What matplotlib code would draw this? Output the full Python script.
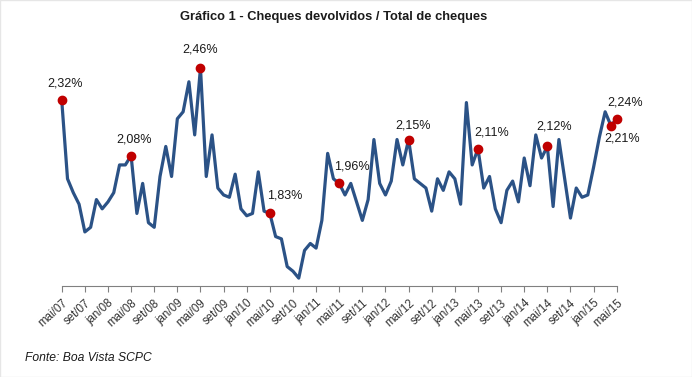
# -*- coding: utf-8 -*-
import matplotlib
matplotlib.use('Agg')
import matplotlib.pyplot as plt
import numpy as np

plt.rcParams['font.family'] = ['Liberation Sans', 'DejaVu Sans']

# cheques devolvidos / total de cheques (%), mensal mai/07 .. mai/15
valores = [2.32, 1.98, 1.92, 1.87, 1.75, 1.77, 1.89, 1.85, 1.88, 1.92,
           2.04, 2.04, 2.08, 1.83, 1.96, 1.79, 1.77, 1.99, 2.12, 1.99,
           2.24, 2.27, 2.40, 2.17, 2.46, 1.99, 2.17, 1.94, 1.91, 1.90,
           2.00, 1.85, 1.82, 1.83, 2.01, 1.84, 1.83, 1.73, 1.72, 1.60,
           1.58, 1.55, 1.67, 1.70, 1.68, 1.80, 2.09, 1.98, 1.96, 1.91,
           1.96, 1.88, 1.80, 1.89, 2.15, 1.96, 1.91, 1.97, 2.15, 2.04,
           2.15, 1.98, 1.96, 1.94, 1.84, 1.98, 1.93, 2.01, 1.98, 1.87,
           2.31, 2.04, 2.11, 1.94, 1.99, 1.85, 1.79, 1.93, 1.97, 1.88,
           2.07, 1.95, 2.17, 2.07, 2.12, 1.86, 2.15, 1.98, 1.81, 1.94,
           1.90, 1.91, 2.03, 2.16, 2.27, 2.21, 2.24]

rotulos = ['mai/07', 'set/07', 'jan/08', 'mai/08', 'set/08', 'jan/09',
           'mai/09', 'set/09', 'jan/10', 'mai/10', 'set/10', 'jan/11',
           'mai/11', 'set/11', 'jan/12', 'mai/12', 'set/12', 'jan/13',
           'mai/13', 'set/13', 'jan/14', 'mai/14', 'set/14', 'jan/15',
           'mai/15']

# pontos destacados: indice do mes, texto
destaques = [0, 12, 24, 36, 48, 60, 72, 84, 95, 96]
textos = ['2,32%', '2,08%', '2,46%', '1,83%', '1,96%', '2,15%', '2,11%',
          '2,12%', '2,21%', '2,24%']
offsets = [(3, 17), (3, 16), (0, 18), (15, 18), (13, 17), (4, 14),
           (14, 16), (7, 20), (11, -13), (8, 16)]

x = np.arange(len(valores))

fig = plt.figure(figsize=(6.92, 3.77), dpi=100)
ax = fig.add_axes([0.0892, 0.2414, 0.8020, 0.6030])

ax.plot(x, valores, color='#2B5286', linewidth=2.3, clip_on=False)
ax.plot(x[destaques], np.array(valores)[destaques], 'o', color='#C00000',
        markersize=6, zorder=3, clip_on=False)

for idx, txt, off in zip(destaques, textos, offsets):
    ax.annotate(txt, (x[idx], valores[idx]), xytext=off,
                textcoords='offset pixels', ha='center', va='center',
                fontsize=9, color='#1a1a1a')

ax.set_xlim(0, 96)
ax.set_ylim(1.516, 2.50)
ax.set_xticks(range(0, 97, 4))
ax.set_xticklabels(rotulos, rotation=42, ha='right', rotation_mode='anchor',
                   fontsize=8.3, color='#333333')
ax.set_yticks([])
for s in ['top', 'right', 'left']:
    ax.spines[s].set_visible(False)
ax.spines['bottom'].set_color('#808080')
ax.tick_params(axis='x', length=4, color='#808080', pad=4)

fig.text(0.482, 0.955, 'Gráfico 1 - Cheques devolvidos / Total de cheques',
         ha='center', va='center', fontsize=9.3, fontweight='bold', color='#1a1a1a')
fig.text(0.036, 0.05, 'Fonte: Boa Vista SCPC', ha='left', va='center',
         fontsize=8.7, style='italic', color='#1a1a1a')

fig.patches.append(plt.Rectangle((0, 0), 1, 1, transform=fig.transFigure,
                                 fill=False, edgecolor='#e6e6e6', linewidth=1))

plt.savefig('out.png', dpi=100)
